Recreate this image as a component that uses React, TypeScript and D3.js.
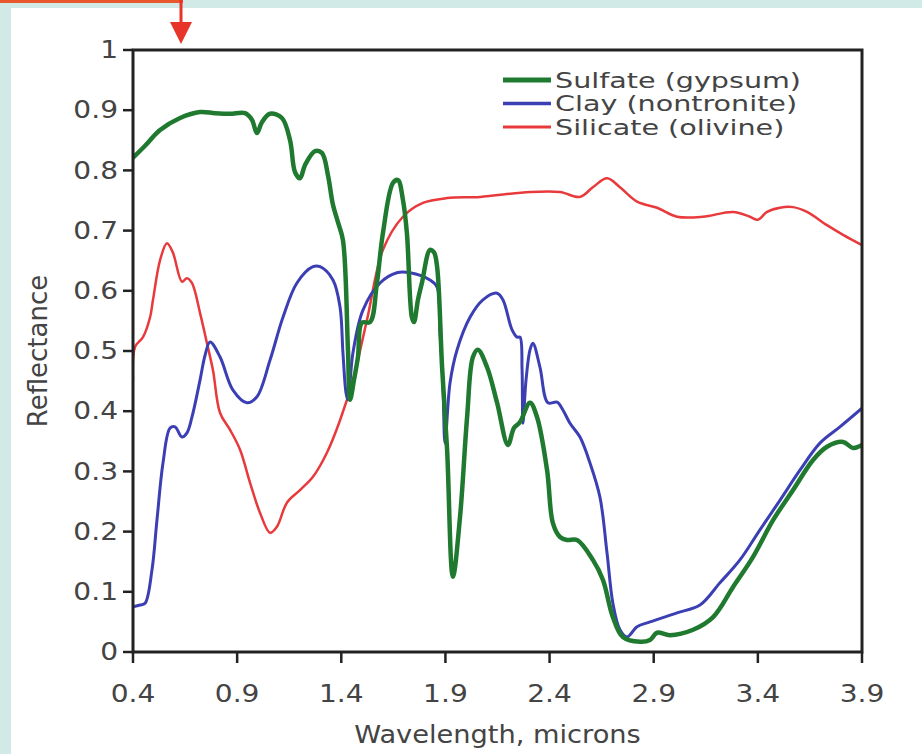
import React from "react";
import * as d3 from "d3";

// ---- data (wavelength in microns, reflectance) ----
const sulfateWl = [0.4,0.458,0.53,0.626,0.722,0.794,0.866,0.938,0.971,0.995,1.019,1.058,1.115,1.154,1.178,1.202,1.226,1.274,1.307,1.336,1.36,1.384,1.408,1.432,1.442,1.461,1.48,1.499,1.538,1.571,1.6,1.648,1.672,1.696,1.715,1.739,1.749,1.768,1.787,1.826,1.845,1.86,1.884,1.908,1.936,1.97,2.004,2.032,2.056,2.1,2.148,2.2,2.229,2.258,2.306,2.34,2.388,2.416,2.45,2.484,2.532,2.608,2.656,2.704,2.752,2.834,2.882,2.916,2.978,3.089,3.185,3.281,3.377,3.473,3.569,3.665,3.732,3.809,3.857,3.9];
const sulfateR = [0.821,0.841,0.867,0.887,0.897,0.895,0.894,0.895,0.884,0.862,0.88,0.894,0.887,0.85,0.797,0.787,0.809,0.832,0.829,0.792,0.743,0.714,0.684,0.502,0.419,0.452,0.49,0.547,0.548,0.613,0.696,0.779,0.784,0.751,0.696,0.556,0.548,0.585,0.613,0.668,0.664,0.64,0.473,0.336,0.125,0.224,0.39,0.49,0.502,0.473,0.414,0.344,0.372,0.382,0.414,0.39,0.302,0.214,0.191,0.186,0.186,0.153,0.12,0.058,0.025,0.017,0.02,0.032,0.028,0.037,0.058,0.108,0.158,0.219,0.269,0.319,0.341,0.349,0.339,0.344];

const clayWl = [0.4,0.434,0.458,0.491,0.515,0.544,0.578,0.602,0.635,0.659,0.683,0.722,0.746,0.77,0.818,0.88,0.947,0.995,1.058,1.12,1.187,1.264,1.298,1.36,1.394,1.408,1.423,1.432,1.456,1.504,1.586,1.667,1.73,1.826,1.86,1.874,1.888,1.898,1.922,1.956,2.018,2.08,2.148,2.176,2.22,2.244,2.258,2.268,2.272,2.287,2.306,2.32,2.354,2.392,2.436,2.464,2.498,2.546,2.594,2.642,2.676,2.704,2.738,2.772,2.82,2.882,3.012,3.122,3.218,3.314,3.41,3.506,3.602,3.698,3.794,3.9];
const clayR = [0.075,0.078,0.081,0.136,0.219,0.314,0.372,0.374,0.357,0.364,0.39,0.452,0.493,0.515,0.49,0.435,0.414,0.424,0.485,0.556,0.613,0.64,0.64,0.618,0.573,0.497,0.43,0.419,0.497,0.568,0.613,0.63,0.63,0.618,0.606,0.53,0.447,0.347,0.447,0.502,0.556,0.585,0.596,0.585,0.535,0.523,0.523,0.468,0.38,0.452,0.502,0.513,0.473,0.414,0.415,0.402,0.38,0.357,0.314,0.257,0.164,0.081,0.037,0.025,0.042,0.05,0.065,0.078,0.115,0.153,0.203,0.252,0.302,0.347,0.374,0.405];

const silicateWl = [0.4,0.41,0.448,0.482,0.496,0.53,0.563,0.592,0.635,0.659,0.683,0.722,0.755,0.784,0.818,0.866,0.914,0.962,1.01,1.058,1.091,1.139,1.202,1.264,1.331,1.394,1.456,1.523,1.6,1.696,1.792,1.908,2.066,2.306,2.45,2.546,2.608,2.676,2.738,2.82,2.916,3.012,3.136,3.281,3.362,3.4,3.444,3.506,3.569,3.636,3.732,3.809,3.9];
const silicateR = [0.452,0.507,0.523,0.556,0.585,0.651,0.679,0.663,0.615,0.621,0.613,0.563,0.513,0.468,0.397,0.369,0.336,0.281,0.231,0.198,0.208,0.248,0.269,0.291,0.331,0.385,0.452,0.551,0.668,0.723,0.746,0.754,0.756,0.764,0.764,0.756,0.772,0.787,0.772,0.748,0.738,0.723,0.723,0.731,0.723,0.718,0.731,0.738,0.739,0.731,0.709,0.693,0.676];

const seriesNames = ["Sulfate (gypsum)", "Clay (nontronite)", "Silicate (olivine)"];
const seriesColors = ["#1f7a30", "#3b3fb3", "#e83a3c"];
const seriesWidths = [4.5, 3, 2.5];
const xTicks = [0.4, 0.9, 1.4, 1.9, 2.4, 2.9, 3.4, 3.9];
const yTicks = [0, 0.1, 0.2, 0.3, 0.4, 0.5, 0.6, 0.7, 0.8, 0.9, 1];

const W = 922, H = 754;
const left = 133, right = 862, top = 50, bottom = 652;
const SX = 1.17;
const FONT = "'DejaVu Sans', Verdana, sans-serif";

export default function App() {
  const x = d3.scaleLinear().domain([0.4, 3.9]).range([left, right]);
  const y = d3.scaleLinear().domain([0, 1]).range([bottom, top]);
  const line = d3
    .line<[number, number]>()
    .x((d) => x(d[0]))
    .y((d) => y(d[1]))
    .curve(d3.curveCatmullRom.alpha(0.5));

  const series = [
    d3.zip(sulfateWl, sulfateR) as [number, number][],
    d3.zip(clayWl, clayR) as [number, number][],
    d3.zip(silicateWl, silicateR) as [number, number][],
  ];
  const drawOrder = [2, 1, 0];

  return (
    <svg
      width={W}
      height={H}
      style={{ position: "absolute", left: 0, top: 0, background: "#fff" }}
      fontFamily={FONT}
    >
      <rect x={0} y={0} width={W} height={H} fill="#fff" />
      {/* decorative frame */}
      <rect x={0} y={0} width={W} height={8} fill="#d2eae7" />
      <rect x={0} y={0} width={11} height={H} fill="#d2eae7" />
      <rect x={0} y={0} width={183} height={3} fill="#e9572c" />
      <line x1={181} y1={0} x2={181} y2={26} stroke="#e8352a" strokeWidth={3} />
      <path d="M170,22 L192,22 L181,44 Z" fill="#e8352a" />

      <defs>
        <clipPath id="plotclip">
          <rect x={left} y={top - 2} width={right - left} height={bottom - top + 4} />
        </clipPath>
      </defs>

      {/* series */}
      <g clipPath="url(#plotclip)">
        {drawOrder.map((i) => (
          <path
            key={i}
            d={line(series[i]) || ""}
            fill="none"
            stroke={seriesColors[i]}
            strokeWidth={seriesWidths[i]}
            strokeLinejoin="round"
            strokeLinecap="round"
          />
        ))}
      </g>

      {/* frame */}
      <rect x={left} y={top} width={right - left} height={bottom - top} fill="none" stroke="#222" strokeWidth={3} />

      {/* y ticks */}
      {yTicks.map((t) => (
        <g key={"y" + t}>
          <line x1={left - 10} x2={left} y1={y(t)} y2={y(t)} stroke="#222" strokeWidth={2.5} />
          <g transform={`translate(${left - 15},${y(t)}) scale(${SX},1)`}>
            <text textAnchor="end" dominantBaseline="central" fontSize={24} fill="#444">
              {String(t)}
            </text>
          </g>
        </g>
      ))}

      {/* x ticks */}
      {xTicks.map((t) => (
        <g key={"x" + t}>
          <line x1={x(t)} x2={x(t)} y1={bottom} y2={bottom + 11} stroke="#222" strokeWidth={2.5} />
          <g transform={`translate(${x(t)},${694}) scale(${SX},1)`}>
            <text textAnchor="middle" dominantBaseline="central" fontSize={24} fill="#444">
              {t.toFixed(1)}
            </text>
          </g>
        </g>
      ))}

      {/* axis titles */}
      <g transform={`translate(${(left + right) / 2},${735}) scale(${SX * 0.97},1)`}>
        <text textAnchor="middle" dominantBaseline="central" fontSize={24} fill="#444">
          Wavelength, microns
        </text>
      </g>
      <text
        transform={`translate(38,${351}) rotate(-90)`}
        textAnchor="middle"
        dominantBaseline="central"
        fontSize={26}
        fill="#444"
      >
        Reflectance
      </text>

      {/* legend */}
      {seriesNames.map((name, i) => (
        <g key={name} transform={`translate(0,${80 + i * 23.5})`}>
          <line x1={503} x2={551} y1={0} y2={0} stroke={seriesColors[i]} strokeWidth={seriesWidths[i] + 0.5} />
          <g transform={`translate(555,0) scale(1.3,1)`}>
            <text dominantBaseline="central" fontSize={22} fill="#444">
              {name}
            </text>
          </g>
        </g>
      ))}
    </svg>
  );
}
